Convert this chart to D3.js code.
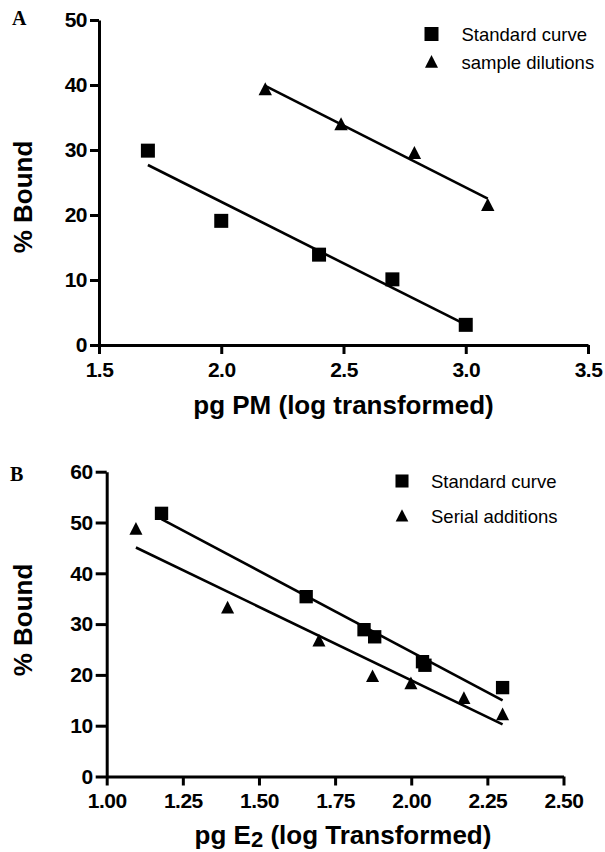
<!DOCTYPE html>
<html>
<head>
<meta charset="utf-8">
<script src="https://cdn.jsdelivr.net/npm/d3@7"></script>
<style>
  body { margin: 0; background: #fff; }
  svg { display: block; }
</style>
</head>
<body>
<svg id="chart" width="605" height="852"></svg>
<script>
// panel A data: pg PM (log transformed) vs % bound
let a_standard_x = [1.70, 2.00, 2.40, 2.70, 3.00];
let a_standard_y = [29.9, 19.1, 13.9, 10.1, 3.1];
let a_dilution_x = [2.18, 2.49, 2.79, 3.09];
let a_dilution_y = [39.4, 34.0, 29.6, 21.6];
let a_x_ticks = [1.5, 2.0, 2.5, 3.0, 3.5];
let a_y_ticks = [0, 10, 20, 30, 40, 50];

// panel B data: pg E2 (log transformed) vs % bound
let b_standard_x = [1.18, 1.655, 1.845, 1.88, 2.037, 2.045, 2.30];
let b_standard_y = [51.8, 35.4, 28.9, 27.5, 22.6, 21.9, 17.5];
let b_serial_x = [1.096, 1.397, 1.697, 1.873, 1.999, 2.173, 2.30];
let b_serial_y = [48.8, 33.3, 26.8, 19.8, 18.4, 15.5, 12.3];
let b_x_ticks = [1.00, 1.25, 1.50, 1.75, 2.00, 2.25, 2.50];
let b_y_ticks = [0, 10, 20, 30, 40, 50, 60];

const font = "'Liberation Sans', Arial, Helvetica, sans-serif";
const black = "#000";

let svg = d3.select("#chart");

// triangle centred on its box, like the prism markers
const triangle_symbol = {
    draw(context, size) {
        const r = Math.sqrt(size) / 2;
        context.moveTo(0, -r);
        context.lineTo(r, r * 0.95);
        context.lineTo(-r, r * 0.95);
        context.closePath();
    }
};

// least squares line, returned as a function of x
function fit_line(xs, ys) {
    const mx = d3.mean(xs), my = d3.mean(ys);
    let sxy = 0, sxx = 0;
    xs.forEach((x, i) => {
        sxy += (x - mx) * (ys[i] - my);
        sxx += (x - mx) * (x - mx);
    });
    const slope = sxy / sxx;
    return x => my + slope * (x - mx);
}

function draw_panel(p) {
    let xScale = d3.scaleLinear().domain(p.x_domain).range([p.left, p.right]);
    let yScale = d3.scaleLinear().domain(p.y_domain).range([p.bottom, p.top]);

    // regression lines first so markers sit on top
    p.series.forEach(s => {
        const f = fit_line(s.x, s.y);
        const ends = [d3.min(s.x), d3.max(s.x)];
        const line_generator = d3.line()
            .x(d => xScale(d))
            .y(d => yScale(f(d)));
        svg.append("path")
            .attr("d", line_generator(ends))
            .attr("fill", "none")
            .attr("stroke", black)
            .attr("stroke-width", 2.6);
    });

    // markers
    p.series.forEach(s => {
        const sym = d3.symbol().type(s.type).size(s.size);
        svg.append("g").selectAll("path")
            .data(s.x.map((x, i) => [x, s.y[i]]))
            .join("path")
            .attr("transform", d => `translate(${xScale(d[0])},${yScale(d[1])})`)
            .attr("d", sym())
            .attr("fill", black);
    });

    // y axis
    const yAxis = svg.append("g")
        .attr("transform", `translate(${p.left},0)`)
        .call(d3.axisLeft(yScale).tickValues(p.y_ticks).tickFormat(d3.format("d"))
            .tickSize(p.y_tick_size).tickSizeOuter(0).tickPadding(3));
    // x axis
    const xAxis = svg.append("g")
        .attr("transform", `translate(0,${p.bottom})`)
        .call(d3.axisBottom(xScale).tickValues(p.x_ticks).tickFormat(d3.format(p.x_format))
            .tickSize(9).tickSizeOuter(0).tickPadding(8));

    [yAxis, xAxis].forEach(ax => {
        ax.select(".domain").attr("stroke-width", 3).attr("stroke", black);
        ax.selectAll(".tick line").attr("stroke-width", 3).attr("stroke", black);
        ax.selectAll(".tick text")
            .attr("font-family", font)
            .attr("font-weight", "bold")
            .attr("font-size", 21)
            .attr("letter-spacing", -0.5)
            .attr("fill", black);
    });

    // axis titles
    svg.append("text")
        .attr("transform", `translate(32,${p.y_title_center}) rotate(-90)`)
        .attr("text-anchor", "middle")
        .attr("font-family", font)
        .attr("font-weight", "bold")
        .attr("font-size", 26)
        .text("% Bound");

    const xt = svg.append("text")
        .attr("x", p.x_title_center)
        .attr("y", p.bottom + p.x_title_dy)
        .attr("text-anchor", "middle")
        .attr("font-family", font)
        .attr("font-weight", "bold")
        .attr("font-size", 26);
    p.x_title.forEach(part => {
        const t = xt.append("tspan").text(part.text);
        if (part.sub) t.attr("font-size", 22).attr("dy", 3);
        if (part.after_sub) t.attr("dy", -3);
    });

    // panel letter
    svg.append("text")
        .attr("x", p.letter_x)
        .attr("y", p.letter_y)
        .attr("font-family", "'Liberation Serif', 'Times New Roman', serif")
        .attr("font-weight", "bold")
        .attr("font-size", 20)
        .text(p.letter);

    // legend
    p.series.forEach((s, i) => {
        const sym = d3.symbol().type(s.type).size(s.legend_size);
        const cy = p.legend_y + i * p.legend_gap;
        svg.append("path")
            .attr("transform", `translate(${p.legend_x},${cy})`)
            .attr("d", sym())
            .attr("fill", black);
        svg.append("text")
            .attr("x", p.legend_x + p.legend_text_dx)
            .attr("y", cy + 7)
            .attr("font-family", font)
            .attr("font-size", 18.5)
            .text(s.name);
    });
}

draw_panel({
    letter: "A", letter_x: 12, letter_y: 25,
    left: 99, right: 588, top: 20, bottom: 345,
    x_domain: [1.5, 3.5], y_domain: [0, 50],
    x_ticks: a_x_ticks, y_ticks: a_y_ticks, x_format: ".1f", y_tick_size: 9,
    y_title_center: 197,
    x_title_center: 343.5, x_title_dy: 69,
    x_title: [{text: "pg PM (log transformed)"}],
    legend_x: 431.5, legend_y: 34, legend_gap: 27.5, legend_text_dx: 30,
    series: [
        {name: "Standard curve", x: a_standard_x, y: a_standard_y, type: d3.symbolSquare, size: 196, legend_size: 196},
        {name: "sample dilutions", x: a_dilution_x, y: a_dilution_y, type: triangle_symbol, size: 180, legend_size: 170}
    ]
});

draw_panel({
    letter: "B", letter_x: 10, letter_y: 481,
    left: 106.7, right: 563.5, top: 471.7, bottom: 776.5,
    x_domain: [1.0, 2.5], y_domain: [0, 60],
    x_ticks: b_x_ticks, y_ticks: b_y_ticks, x_format: ".2f", y_tick_size: 11,
    y_title_center: 620,
    x_title_center: 343, x_title_dy: 67,
    x_title: [{text: "pg E"}, {text: "2", sub: true}, {text: " (log Transformed)", after_sub: true}],
    legend_x: 402, legend_y: 481, legend_gap: 34.5, legend_text_dx: 29,
    series: [
        {name: "Standard curve", x: b_standard_x, y: b_standard_y, type: d3.symbolSquare, size: 178, legend_size: 170},
        {name: "Serial additions", x: b_serial_x, y: b_serial_y, type: triangle_symbol, size: 170, legend_size: 160}
    ]
});
</script>
</body>
</html>
